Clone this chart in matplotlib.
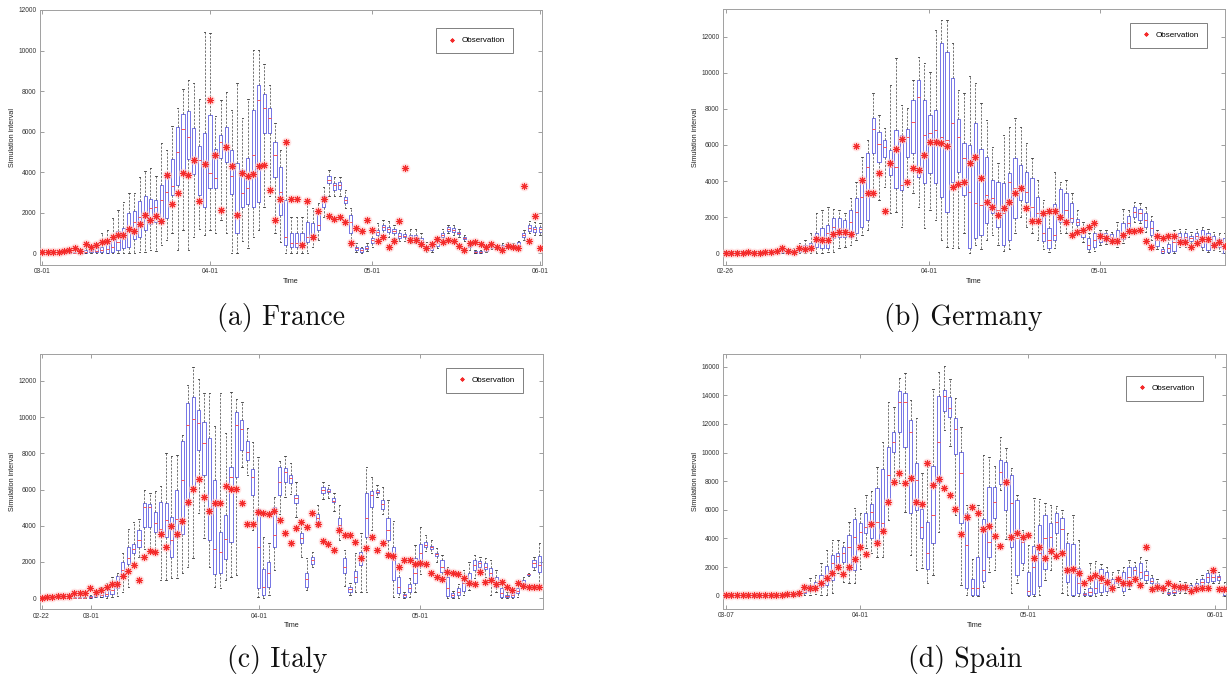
import matplotlib
matplotlib.use('Agg')
import matplotlib.pyplot as plt
import numpy as np

plt.rcParams['font.family'] = ['Liberation Sans', 'DejaVu Sans']

# ---------------- France ----------------
fr_lo = [0,0,0,0,0,0,0,0,0,0, 0,0,0,0,0,0,0,30,80,50, 160,130,410,660,990,160,1150,160,820,1180,
         900,1150,990,1640,990,0,0,580,250,820, 1150,2300,2800,990,530,0,0,0,0,0,
         330,660,1810,2800,2800,2800,2220,330,80,30, 130,330,660,900,820,740,580,620,490,490,
         360,80,50,250,690,1020,900,820,620,160, 0,0,80,200,200,250,280,250,250,660, 990,900,900]
fr_q1 = [0,0,0,0,0,0,0,0,0,50, 50,50,30,80,160,250,330,710,790,1150, 1450,1560,1510,1730,2880,3370,3950,4640,3910,2880,
         2300,3200,3200,4690,4520,2930,990,2300,2430,2300, 2550,5920,5920,3780,1890,410,300,330,300,530,
         690,1150,2300,3450,3120,3150,2470,990,160,80, 200,490,900,1150,1070,990,740,790,620,620,
         530,200,160,360,790,1120,1070,950,690,300, 0,0,130,250,230,330,330,300,360,790, 1120,1050,1050]
fr_med = [20,20,20,20,20,20,30,40,60,100, 130,160,200,300,550,700,1150,1550,1800,1970, 2220,2300,2630,3040,3340,4980,6150,5740,4550,4600,
          4440,3950,3700,5510,5260,3800,1970,2960,3200,4830, 7560,7150,6660,4830,3040,820,490,490,490,820,
          900,1380,2560,3620,3350,3350,2650,1560,250,160, 260,660,1070,1310,1180,1090,870,870,790,790,
          660,260,250,490,900,1180,1150,1020,740,360, 50,50,200,300,280,360,380,350,430,900, 1250,1180,1180]
fr_q3 = [50,50,50,50,50,50,80,120,150,160, 250,330,490,690,1100,1230,1970,2100,2600,2840, 2660,2630,3370,3950,4640,6250,6860,7020,6160,5310,
         5920,6820,5150,5840,6250,5100,4440,4110,4690,7070, 8300,7860,7150,5510,4270,2630,990,990,990,1560,
         1480,2000,2830,3810,3480,3520,2790,1890,330,250, 360,740,1150,1400,1310,1180,990,950,900,900,
         740,360,330,620,1020,1270,1230,1070,790,410, 100,100,250,360,330,410,450,410,530,990, 1400,1310,1310]
fr_hi = [100,100,100,100,100,100,150,200,250,330, 490,990,1150,1730,2140,2550,2960,2990,3750,4080, 4190,3800,5420,5100,6280,7150,8090,8550,8420,7600,
         10930,10850,6770,7560,7970,7070,8380,6660,7600,10030, 10030,9340,8300,6440,5100,5590,1810,1810,1810,2630,
         2220,2470,3290,4110,3780,3780,3120,2220,490,330, 490,990,1480,1640,1610,1400,1150,1150,1180,1180,
         990,530,490,790,1180,1400,1400,1180,900,530, 160,160,330,450,420,490,530,490,620,1150, 1610,1560,1500]
fr_obs = [50,50,50,50,100,160,250,100,440,300, 410,530,620,790,890,920,1180,1100,1430,1890, 1640,1850,1600,3850,2450,2950,3950,3850,4600,2600,
          4400,7560,4850,2130,5250,4300,1890,3950,3800,3900, 4300,4350,3120,1640,2700,5500,2660,2660,410,2600,
          800,2070,2660,1840,1690,1790,1550,490,1230,1100, 1640,1150,620,820,310,620,1590,4190,670,670,
          440,250,440,720,540,670,580,380,160,490, 540,440,330,440,300,160,380,330,250,3340, 620,1840,280]
fr_ticks = ['03-01', '04-01', '05-01', '06-01']

# ---------------- Germany ----------------
de_lo = [0,0,0,0,0,0,0,0,0,0, 0,0,0,0,0,0,40,0,90,90, 280,370,460,740,1020,1290,3140,2950,3690,2220,
         2310,1480,3690,3320,2580,1380,2400,1850,740,370, 280,280,1110,0,460,220,740,1020,460,150,
         220,1110,2030,1480,1110,740,220,90,280,1110, 1110,1110,1290,650,90,150,460,520,590,370,
         590,920,1750,1660,1200,740,220,0,0,0, 370,370,550,590,180,90,180,150,0]
de_q1 = [0,0,0,0,0,0,0,0,0,0, 20,20,30,90,150,180,370,280,280,830, 920,920,890,1110,1480,1850,5540,5080,5350,4340,
         3600,3510,5320,5580,4250,3880,4430,3880,3140,2310, 3970,4520,3230,280,830,1020,1660,2220,1480,460,
         740,1940,2950,2860,1850,1750,700,280,740,1750, 1850,1750,1570,890,220,330,650,700,740,590,
         780,1200,2030,1850,1480,1020,400,40,90,150, 590,590,700,780,370,180,370,330,40]
de_med = [30,30,30,30,30,30,30,30,30,30, 60,60,80,200,300,400,920,890,1110,1480, 1380,1290,1750,2310,3140,4800,6900,6040,5910,4800,
          4800,3780,6460,7290,8670,6550,6680,6830,6460,6270, 7200,6460,5260,3420,2770,2680,3230,3050,2400,2220,
          3970,3600,3600,3420,2580,2220,1110,740,1020,2120, 2400,1940,1750,1110,460,740,920,890,890,830,
          1110,1660,2300,2220,1850,1380,740,150,280,650, 920,890,850,960,830,650,650,560,460]
de_q3 = [60,60,60,60,60,60,60,60,60,60, 120,120,150,370,460,590,1110,1380,1570,1940, 1940,1850,2400,3050,4060,5540,7480,6740,6280,5720,
         6830,6550,6870,8490,9600,8490,7660,7940,11630,11170, 9690,7420,6090,6000,7200,5760,5320,4060,3970,3910,
         4430,5260,4890,4520,4150,3100,2120,1380,2730,3540, 3360,2810,1880,1330,830,1110,1110,1110,1050,1290,
         1660,2070,2550,2440,2220,1810,1020,220,500,1020, 1150,1110,980,1110,1290,1110,960,810,830]
de_hi = [100,100,100,100,100,100,100,100,100,100, 250,250,300,550,750,1110,2220,2400,2580,2440, 2400,2220,3050,3970,5350,6280,8860,7660,6920,9320,
         10800,8220,8030,9600,10890,10520,10060,12370,12920,12920, 11630,9050,8860,9820,9410,8310,7380,5910,4980,6550,
         7010,7480,7010,6090,5260,4060,2950,2220,4520,3970, 4060,3320,2400,1750,1110,1480,1290,1290,1200,1750,
         2440,2400,2860,2770,2580,2070,1290,370,740,1290, 1330,1330,1200,1330,1480,1330,1200,1110,1110]
de_obs = [40,40,40,40,60,40,40,60,70,120, 280,150,90,280,220,280,810,740,740,1050, 1180,1160,1090,5940,4060,3320,3360,4470,2360,4980,
          5780,6310,3970,4740,4620,5450,6150,6180,6090,5940, 3660,3840,3970,4980,5350,4150,2860,2540,2120,2490,
          2860,3360,3600,2490,1810,1810,2250,2360,2360,2030, 1750,1010,1160,1290,1480,1660,960,830,700,700,
          1010,1250,1250,1290,700,370,980,830,980,980, 650,610,370,550,780,780,460,650,410]
de_ticks = ['02-26', '04-01', '05-01']

# ---------------- Italy ----------------
it_lo = [0,0,0,0,0,0,0,0,0,40, 50,90,40,50,130,370,640,1930,2300,2740, 2700,2480,1010,1010,1100,1100,1380,1750,2210,4690,
         3310,1750,640,550,1010,1190,1290,7260,6800,3770, 90,0,180,1560,4650,5610,5750,4500,2300,460,
         1750,3910,5460,5510,4830,3200,680,180,370,370, 370,3770,5610,4650,2480,90,90,0,90,370,
         1340,2630,2480,2020,1100,0,0,0,180,460, 1100,1380,1190,180,370,0,0,0,90,550, 1230,1560,640]
it_q1 = [0,0,0,0,0,0,0,0,0,40, 50,90,130,240,550,1160,1890,2480,2850,3950, 3950,3640,3440,3400,2260,3400,3550,5150,6010,8180,
         6800,3220,1340,1380,2150,3110,6710,8180,7630,5700, 550,180,640,2850,5700,6430,6340,5270,3070,640,
         1890,4230,5830,5880,5310,3770,1380,370,920,1840, 3400,5050,5790,4910,3220,1010,280,50,330,830,
         1780,2850,2740,2330,1470,130,90,180,420,740, 1560,1750,1600,1050,640,50,50,50,280,740, 1290,1750,1470]
it_med = [20,20,20,20,20,20,20,20,20,90, 110,200,250,450,870,1560,2210,2700,3220,5050, 5050,4170,3830,4320,3220,4390,6520,9560,9870,9650,
          8550,4800,2700,2570,3250,6710,9560,9320,8090,6710, 2850,640,1380,3490,6430,6980,6620,5510,3330,1050,
          2110,4410,5970,5920,5390,4040,1750,500,1190,2300, 4410,5700,5880,5200,3770,2110,640,160,550,1380,
          2480,2960,2850,2450,1750,550,180,370,860,1010, 1840,1930,1750,1380,860,310,130,160,420,860, 1320,1930,1840]
it_q3 = [50,50,50,50,50,50,50,50,50,130, 180,370,500,740,1230,2020,2810,3000,3770,5280, 5200,4760,5310,5240,4460,5990,8690,10790,11120,10380,
         9740,8820,6540,3680,4600,7260,10290,9830,8680,7110, 4910,1640,2020,5050,7220,7170,6800,5700,3620,1380,
         2260,4650,6120,6010,5550,4410,2210,640,1530,2570, 5790,5940,5970,5420,4410,2850,1190,240,780,2210,
         2990,3090,2900,2520,2110,1160,280,550,1100,1380, 2110,2080,1930,1670,1190,550,180,280,550,1010, 1340,2110,2330]
it_hi = [90,90,90,90,90,90,90,90,90,200, 250,640,830,1160,1420,2480,3830,4190,4360,5970, 5830,5920,6190,8000,7850,7900,9010,11760,12770,12080,
         11300,11300,9500,11300,9100,11400,10970,10840,9370,8640, 7810,3400,3030,5610,7590,7840,7440,6430,4230,2210,
         2570,5150,6430,6250,5790,5150,2670,830,2520,3620, 7260,6710,6250,6160,5420,4270,1970,370,1100,2940,
         3950,3490,3220,2760,2390,1750,420,790,1560,2020, 2390,2300,2210,2110,1560,790,370,420,740,1190, 1420,2300,3030]
it_obs = [40,90,90,130,130,130,280,280,280,590, 330,460,610,770,790,1250,1510,1820,1010,2300, 2630,2570,3530,2850,4010,3530,4260,5330,6010,6560,
          5610,4820,5280,5280,6190,6010,6010,5280,4080,4080, 4780,4720,4630,4820,4320,3620,3070,3860,4230,3950,
          4720,4100,3180,3000,2670,3770,3490,3490,3090,2210, 2760,3360,2670,3070,2390,2330,1750,2110,2110,1890,
          1970,1890,1380,1190,1050,1470,1380,1320,1100,830, 770,1430,880,1010,790,880,640,460,830,680, 640,640,640]
it_ticks = ['02-22', '03-01', '04-01', '05-01']

# ---------------- Spain ----------------
es_lo = [0,0,0,0,0,0,0,0,0,0, 0,0,0,0,20,50,120,50,50,210, 1560,980,860,860,1840,3310,2960,2720,2680,5290,
         8200,7850,5870,2850,1790,1910,860,1440,4470,11580, 10460,5640,740,50,0,0,630,1680,1790,7380,
         3940,160,860,1790,0,0,50,1090,1790,2840, 160,50,0,0,0,0,0,50,50,280,
         630,50,440,980,860,860,630,350,210,50, 50,160,210,350,400,510,750,860,910,0]
es_q1 = [0,0,0,0,0,0,0,0,0,0, 0,0,0,120,160,350,400,580,750,1090, 2140,2380,1790,1790,3470,4360,4010,3890,4470,6680,
         10060,11460,10410,5750,5990,4010,1840,3660,7850,12930, 12460,9900,5050,560,50,50,1050,2710,5400,7800,
         5990,3420,1440,2260,50,120,680,1840,2960,4360, 3140,980,50,160,20,50,210,280,350,510,
         910,350,680,1370,1210,1090,860,510,350,120, 160,350,400,510,580,750,980,1050,1090,50]
es_med = [20,20,20,20,20,20,20,20,20,20, 20,20,20,160,280,510,680,980,1440,2310, 2770,2960,3380,4120,4470,4820,5870,5170,5050,8430,
          10760,13550,13550,11460,8080,4770,2960,5640,10760,13950, 13090,11620,8590,3540,510,510,1790,3770,6570,8660,
          7850,6450,4010,3770,350,2030,2960,4010,4120,5170, 4630,1790,1560,860,120,280,510,910,860,810,
          1090,980,1330,1790,1680,1440,1050,680,490,210, 280,510,580,630,750,980,1280,1280,1280,350]
es_q3 = [50,50,50,50,50,50,50,50,50,50, 50,50,50,280,400,750,980,1440,2080,2840, 2960,3420,4240,5330,5100,5750,6400,7500,8830,10410,
         11460,14320,14180,12270,9250,6030,5170,9060,13970,14370, 13860,12390,10060,5800,1140,2710,5330,7620,7620,9480,
         9360,8430,6680,4120,1680,3470,4940,5640,5050,5750, 5400,3660,3610,1910,210,510,1140,1840,1680,1140,
         1280,1680,2030,2030,2260,1750,1210,910,630,280, 400,750,750,750,910,1140,1560,1560,1370,630]
es_hi = [100,100,100,100,100,100,100,100,100,100, 100,100,100,350,630,1210,1440,2310,3190,3890, 3890,3770,5170,6100,5750,7030,7340,8990,10760,13550,
         13210,15190,15530,13670,12390,8550,9010,14420,15650,16050, 15120,13790,11810,6330,2590,6330,9830,9720,9060,11110,
         10290,8900,7030,4590,3540,6800,6730,6450,6330,6290, 5990,4400,5640,3890,440,2310,2450,2210,2030,1680,
         1790,2030,2490,2380,2720,2490,1440,1140,750,440, 630,1050,980,910,1140,1440,1790,1790,1680,980]
es_obs = [20,20,20,20,20,20,20,20,20,20, 20,90,120,160,630,510,510,910,1260,1560, 2030,1490,2030,2590,3420,2890,5010,3700,4520,6570,
          7970,8590,7900,8240,6570,6400,9250,7730,8130,7500, 7030,6030,4310,5520,6220,5800,4630,4870,4170,3490,
          7970,4080,4400,4120,4240,2610,3380,2610,3120,2770, 3000,1790,1840,1560,860,1260,1420,1230,980,510,
          1140,910,910,1190,750,3420,440,580,510,910, 680,580,630,300,490,510,510,1790,490,490]
es_ticks = ['03-07', '04-01', '05-01', '06-01']

captions = ['(a) France', '(b) Germany', '(c) Italy', '(d) Spain']

W, H = 1229, 680
fig = plt.figure(figsize=(W / 100, H / 100), dpi=100)


def px_axes(l, t, r, b):
    return fig.add_axes([l / W, 1 - b / H, (r - l) / W, (b - t) / H])


def panel(ax, lo, q1, med, q3, hi, obs, tick_pos, tick_lab, xlim, ylim, yticks, leg_px):
    n = len(obs)
    pos = np.arange(n)
    stats = [dict(whislo=a, q1=b, med=c, q3=d, whishi=e)
             for a, b, c, d, e in zip(lo, q1, med, q3, hi)]
    ax.bxp(stats, positions=pos, widths=0.58, showfliers=False, manage_ticks=False,
           capwidths=0.25,
           boxprops=dict(color='#7474e6', linewidth=0.7),
           medianprops=dict(color='#ff5050', linewidth=0.7),
           whiskerprops=dict(color='#505050', linewidth=0.55, linestyle=(0, (3.0, 1.8))),
           capprops=dict(color='#333333', linewidth=0.6))
    ax.plot(pos, obs, linestyle='none', marker='o', ms=7, mfc='#ffd0d0', mec='none',
            alpha=0.6, zorder=4)
    ax.plot(pos, obs, linestyle='none', marker=(8, 2, 0), ms=5.0, mec='#f42a2a',
            mew=0.75, label='Observation', zorder=5)
    ax.set_xlim(*xlim)
    ax.set_ylim(*ylim)
    ax.set_xticks(tick_pos)
    ax.set_xticklabels(tick_lab)
    ax.set_yticks(yticks)
    ax.set_yticklabels([str(v) for v in yticks])
    ax.tick_params(direction='in', top=True, right=True, length=3, width=0.5,
                   colors='#777777', labelsize=4.8, labelcolor='#333333', pad=2.5)
    for sp in ax.spines.values():
        sp.set_color('#a0a0a0')
        sp.set_linewidth(0.7)
    ax.set_xlabel('Time', fontsize=5.2, color='#222222')
    ax.set_ylabel('Simulation interval', fontsize=5.2, color='#222222')
    bb = ax.get_position()
    ax.xaxis.set_label_coords(0.5, -13 / (bb.height * H))
    ax.yaxis.set_label_coords(-24 / (bb.width * W), 0.5)
    leg = ax.legend(loc='upper right', bbox_to_anchor=(leg_px[0] / W, 1 - leg_px[1] / H),
                    bbox_transform=fig.transFigure, fontsize=5.8, frameon=True,
                    fancybox=False, edgecolor='#606060', borderpad=1.05,
                    handlelength=1.8, handletextpad=0.3, markerscale=0.55,
                    borderaxespad=0)
    leg.get_frame().set_linewidth(0.7)


ax = px_axes(40, 10, 541.7, 265)
panel(ax, fr_lo, fr_q1, fr_med, fr_q3, fr_hi, fr_obs, [0, 31, 61, 92], fr_ticks,
      (-0.42, 92.3), (-580, 12000), list(range(0, 12001, 2000)), (513.3, 28.3))

ax = px_axes(723, 9.3, 1225, 265)
panel(ax, de_lo, de_q1, de_med, de_q3, de_hi, de_obs, [0, 35.9, 65.9], de_ticks,
      (-0.47, 88.0), (-650, 13520), list(range(0, 12001, 2000)), (1207, 23))

ax = px_axes(40, 354.3, 542.7, 609.3)
panel(ax, it_lo, it_q1, it_med, it_q3, it_hi, it_obs, [0, 9.2, 40.2, 69.9], it_ticks,
      (-0.3, 92.6), (-610, 13460), list(range(0, 12001, 2000)), (523, 368))

ax = px_axes(723, 354.3, 1226, 609)
panel(ax, es_lo, es_q1, es_med, es_q3, es_hi, es_obs, [0, 24.0, 54.0, 87.3], es_ticks,
      (-0.5, 89.3), (-930, 16870), list(range(0, 16001, 2000)), (1203, 376))

cap_pos = [(281, 318), (963, 318), (277, 660), (965, 660)]
for txt, (cx, cy) in zip(captions, cap_pos):
    fig.text(cx / W, 1 - cy / H, txt, ha='center', va='center', fontsize=20,
             family='cmr10', color='#111111')

fig.savefig('out.png', dpi=100)
